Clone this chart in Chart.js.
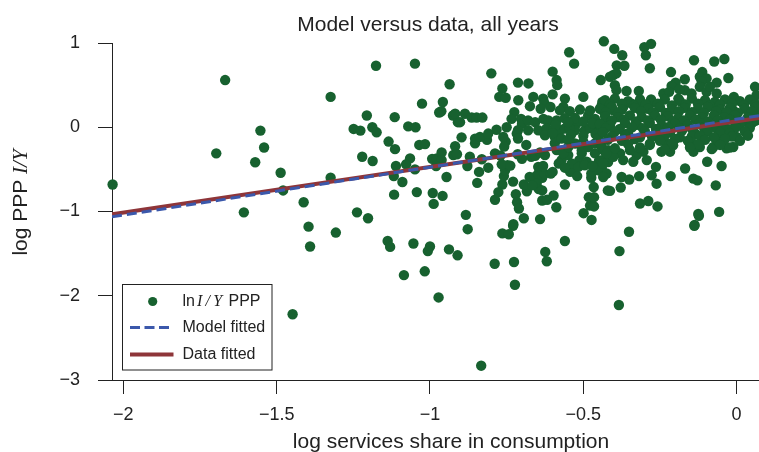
<!DOCTYPE html>
<html>
<head>
<meta charset="utf-8">
<title>Model versus data, all years</title>
<script src="https://cdn.jsdelivr.net/npm/chart.js@4/dist/chart.umd.min.js"></script>
<style>
  html, body { margin: 0; padding: 0; background: #fff; }
  #wrap { width: 759px; height: 452px; }
</style>
</head>
<body>
<div id="wrap"><canvas id="chart" width="759" height="452"></canvas></div>
<script>
// --- Data ---
// [log services share in consumption, log PPP I/Y]
const obsPoints = [
  [-2.035,-0.68],[-1.668,0.56],[-1.553,-0.04],[-1.541,-0.24],[-1.697,-0.31],[-1.570,-0.415],
  [-1.487,-0.54],[-1.479,-0.75],[-1.607,-1.01],[-1.412,-0.89],[-1.396,-1.18],[-1.391,-1.415],
  [-1.448,-2.22],[-1.324,0.36],
  [-1.176,0.73],[-1.049,0.755],[-0.936,0.51],[-0.958,0.30],[-1.026,0.28],[-0.963,0.19],
  [-0.970,0.175],[-0.925,0.14],[-0.909,0.06],[-1.206,0.14],[-1.115,0.12],[-1.249,-0.02],
  [-1.227,-0.04],[-1.188,0.0],[-1.174,-0.06],[-1.071,0.01],[-1.047,0.0],[-1.135,-0.17],
  [-1.114,-0.26],[-1.035,-0.21],[-1.016,-0.20],[-1.221,-0.35],[-1.187,-0.40],[-1.111,-0.46],
  [-1.065,-0.37],[-1.078,-0.44],[-1.049,-0.50],[-0.993,-0.375],[-0.978,-0.37],[-0.962,-0.30],
  [-0.962,-0.39],[-0.980,-0.46],[-0.924,-0.33],[-0.918,-0.225],[-0.946,-0.59],[-1.118,-0.58],
  [-1.090,-0.65],[-1.324,-0.60],[-1.117,-0.80],[-1.043,-0.77],[-0.991,-0.78],[-0.959,-0.815],
  [-0.988,-0.91],[-1.238,-1.01],[-1.202,-1.08],[-1.307,-1.25],[-1.138,-1.35],[-1.130,-1.42],
  [-1.054,-1.38],[-1.0,-1.415],[-1.007,-1.47],[-0.938,-1.45],[-0.910,-1.52],[-1.085,-1.755],
  [-1.017,-1.71],[-0.972,-2.02],
  [-0.877,-1.21],[-0.764,-1.26],[-0.743,-1.27],[-0.729,-1.17],[-0.789,-1.62],[-0.726,-1.60],
  [-0.723,-1.87],[-0.833,-2.83],[-0.624,-1.48],[-0.619,-1.59],[-0.560,-1.35],[-0.382,-1.47],
  [-0.384,-2.11],[-0.351,-1.24],[-0.138,-1.17],
  [-0.883,-1.04],[-0.728,-1.15],[-0.694,-1.08],[-0.641,-1.09],[-0.588,-0.95],[-0.499,-1.02],
  [-0.473,-1.10],[-0.478,-0.93],[-0.465,-0.94],[-0.482,-0.83],[-0.465,-0.83],[-0.466,-0.71],
  [-0.474,-0.60],[-0.474,-0.55],[-0.420,-0.75],[-0.788,-0.86],[-0.72,-0.795],[-0.716,-0.89],
  [-0.71,-0.965],[-0.684,-0.76],[-0.694,-0.68],[-0.729,-0.645],[-0.764,-0.68],[-0.759,-0.58],
  [-0.755,-0.51],[-0.747,-0.45],[-0.777,-0.77],[-0.846,-0.66],[-0.84,-0.53],[-0.878,-0.46],
  [-0.912,-0.32],[-0.87,-0.35],[-0.831,-0.38],[-0.810,-0.48],[-0.77,-0.335],[-0.766,-0.44],
  [-0.738,-0.455],[-0.853,-0.19],[-0.814,-0.15],[-0.753,-0.17],[-0.758,-0.23],[-0.686,-0.21],
  [-0.70,-0.375],[-0.67,-0.35],[-0.657,-0.34],[-0.675,-0.59],[-0.658,-0.59],[-0.647,-0.55],
  [-0.634,-0.60],[-0.627,-0.55],[-0.606,-0.55],[-0.60,-0.53],[-0.647,-0.47],[-0.631,-0.46],
  [-0.652,-0.67],[-0.645,-0.735],[-0.634,-0.75],[-0.634,-0.87],[-0.618,-0.86],[-0.597,-0.81],
  [-0.666,-0.69],[-0.56,-0.68],[-0.543,-0.53],[-0.531,-0.525],[-0.571,-0.39],[-0.549,-0.33],
  [-0.513,-0.39],[-0.505,-0.31],[-0.489,-0.41],[-0.462,-0.31],[-0.449,-0.40],[-0.44,-0.49],
  [-0.435,-0.27],[-0.587,-0.27],[-0.593,-0.19],[-0.565,-0.31],[-0.641,-0.30],[-0.625,-0.33],
  [-0.714,-0.32],[-0.788,-0.31],
  [-0.549,-0.234],[-0.527,-0.193],[-0.505,-0.273],[-0.484,-0.234],[-0.462,-0.193],[-0.44,-0.234],
  [-0.419,-0.273],[-0.538,-0.431],[-0.516,-0.471],[-0.495,-0.451],[-0.451,-0.51],[-0.424,-0.549],
  [-0.44,-0.391],[-0.419,-0.412],
  [-0.80,0.64],[-0.713,0.53],[-0.679,0.52],[-0.764,0.46],[-0.774,0.36],[-0.753,0.35],
  [-0.712,0.32],[-0.663,0.36],[-0.631,0.34],[-0.627,0.29],[-0.674,0.25],[-0.639,0.22],
  [-0.607,0.24],[-0.56,0.34],[-0.565,0.24],[-0.60,0.66],[-0.587,0.56],[-0.585,0.50],
  [-0.60,0.39],[-0.546,0.89],[-0.53,0.755],[-0.50,0.36],[-0.443,0.56],[-0.433,1.02],
  [-0.438,0.30],[-0.437,0.20],[-0.725,0.18],[-0.734,0.10],[-0.703,0.10],[-0.70,0.04],
  [-0.68,0.08],[-0.657,0.06],[-0.63,0.10],[-0.614,0.08],[-0.587,0.08],[-0.75,0.0],
  [-0.713,-0.035],[-0.68,-0.035],[-0.647,-0.035],[-0.62,-0.015],[-0.598,-0.025],[-0.576,-0.035],
  [-0.56,-0.015],[-0.522,0.045],[-0.484,0.14],[-0.527,-0.035],[-0.495,-0.035],[-0.462,0.0],
  [-0.44,0.045],[-0.419,0.08],[-0.625,-0.095],[-0.593,-0.115],[-0.571,-0.135],[-0.717,-0.075],
  [-0.713,-0.135],[-0.783,-0.03],[-0.761,-0.115],[-0.918,0.16],[-0.886,0.16],[-0.902,0.06],
  [-0.864,0.115],[-0.848,0.115],[-0.829,0.115],[-0.897,-0.12],[-0.853,-0.135],[-0.837,-0.115],
  [-0.81,-0.075],
  [-0.576,0.20],[-0.544,0.19],[-0.511,0.21],[-0.478,0.20],[-0.56,0.107],[-0.527,0.11],
  [-0.462,0.10],[-0.544,-0.012],[-0.478,-0.01],
  [-0.59,0.03],[-0.55,0.06],[-0.50,0.07],[-0.47,0.05],[-0.60,-0.07],[-0.54,-0.09],
  [-0.50,-0.10],[-0.46,-0.08],[-0.55,-0.15],[-0.50,-0.17],[-0.45,-0.13],[-0.58,-0.43],
  [-0.56,-0.48],[-0.52,-0.58],[-0.47,-0.46],
  [-0.399,0.93],[-0.373,0.855],[-0.301,0.95],[-0.279,0.99],[-0.296,0.855],[-0.283,0.70],
  [-0.391,0.735],[-0.366,0.73],[-0.402,0.62],[-0.392,0.64],[-0.413,0.60],[-0.397,0.50],
  [-0.392,0.44],[-0.359,0.43],[-0.319,0.43],[-0.214,0.655],[-0.139,0.795],[-0.073,0.78],
  [-0.04,0.81],[-0.199,0.53],[-0.212,0.49],[-0.169,0.57],[-0.112,0.655],[-0.12,0.60],
  [-0.098,0.58],[-0.114,0.54],[-0.065,0.53],[-0.027,0.585],[-0.239,0.40],[-0.22,0.42],
  [-0.19,0.34],[-0.169,0.44],[-0.147,0.40],[-0.187,0.45],[-0.12,0.48],[-0.098,0.42],
  [-0.087,0.48],[-0.065,0.40],[-0.009,0.36],[0.06,0.48],[0.065,0.38],[-0.279,0.33],
  [-0.315,0.30],[-0.342,0.28],[-0.37,0.24],[-0.402,0.20],[-0.43,0.30],[-0.44,0.26],
  [0.06,0.28],[0.065,0.16],[0.054,0.10],[-0.011,0.20],[0.0,0.10],
  [0.06,0.08],[-0.006,0.0],[0.0,-0.115],[-0.011,-0.235],[-0.033,-0.25],[-0.076,-0.235],
  [-0.06,-0.155],[-0.141,-0.29],[-0.12,-0.235],[-0.152,-0.195],[-0.245,-0.29],[-0.217,-0.29],
  [-0.207,-0.215],[-0.228,-0.195],[-0.283,-0.195],[-0.304,-0.29],[-0.326,-0.33],[-0.315,-0.25],
  [-0.348,-0.27],[-0.38,-0.31],[-0.402,-0.35],[-0.424,-0.31],[-0.435,-0.43],[-0.37,-0.39],
  [-0.337,-0.41],[-0.293,-0.39],[-0.263,-0.47],[-0.435,-0.59],[-0.375,-0.59],[-0.35,-0.62],
  [-0.318,-0.58],[-0.277,-0.57],[-0.261,-0.67],[-0.215,-0.58],[-0.168,-0.49],[-0.141,-0.61],
  [-0.128,-0.63],[-0.096,-0.41],[-0.049,-0.46],[-0.068,-0.69],[-0.413,-0.755],[-0.378,-0.715],
  [-0.315,-0.905],[-0.288,-0.875],[-0.258,-0.94],[-0.125,-1.03],[-0.057,-1.005],[-0.123,-1.05],
  [-0.137,-1.16],
  // dense band on the right
  [-0.429,0.32],[-0.397,0.34],[-0.354,0.31],[-0.315,0.33],[-0.276,0.30],[-0.234,0.33],
  [-0.185,0.31],[-0.146,0.34],[-0.103,0.32],[-0.071,0.30],[-0.038,0.33],[0.011,0.31],[0.043,0.33],
  [-0.413,0.27],[-0.374,0.28],[-0.335,0.26],[-0.296,0.27],[-0.257,0.28],[-0.211,0.26],
  [-0.166,0.27],[-0.126,0.28],[-0.087,0.26],[-0.054,0.27],[-0.015,0.28],[0.024,0.26],[0.060,0.27],
  [-0.446,0.22],[-0.407,0.24],[-0.374,0.21],[-0.332,0.23],[-0.289,0.22],[-0.250,0.24],
  [-0.211,0.21],[-0.169,0.23],[-0.126,0.22],[-0.094,0.24],[-0.054,0.21],[-0.022,0.23],
  [0.027,0.22],[0.063,0.24],
  [-0.426,0.18],[-0.387,0.17],[-0.312,0.19],[-0.273,0.18],[-0.231,0.17],[-0.188,0.19],
  [-0.146,0.18],[-0.107,0.17],[-0.067,0.19],[-0.032,0.18],[0.004,0.17],[0.050,0.19],
  [-0.429,0.13],[-0.387,0.12],[-0.348,0.14],[-0.309,0.12],[-0.266,0.14],[-0.224,0.13],
  [-0.191,0.11],[-0.152,0.14],[-0.113,0.12],[-0.074,0.14],[-0.041,0.12],[-0.006,0.14],[0.037,0.12],
  [-0.407,0.08],[-0.367,0.09],[-0.328,0.07],[-0.289,0.08],[-0.247,0.09],[-0.208,0.07],
  [-0.172,0.08],[-0.133,0.09],[-0.094,0.07],[-0.061,0.08],[-0.022,0.09],[0.024,0.07],[0.063,0.08],
  [-0.446,0.04],[-0.413,0.02],[-0.364,0.05],[-0.325,0.03],[-0.283,0.05],[-0.244,0.02],
  [-0.201,0.04],[-0.159,0.03],[-0.120,0.05],[-0.081,0.02],[-0.048,0.04],[0.011,0.03],[0.050,0.05],
  [-0.426,-0.01],[-0.381,-0.02],[-0.341,0.0],[-0.306,-0.01],[-0.263,-0.02],[-0.224,0.0],
  [-0.185,-0.01],[-0.146,-0.02],[-0.107,0.0],[-0.067,-0.01],[-0.032,-0.02],[-0.002,0.0],[0.043,-0.01],
  [-0.436,-0.06],[-0.397,-0.05],[-0.354,-0.07],[-0.299,-0.05],[-0.257,-0.07],[-0.217,-0.06],
  [-0.178,-0.04],[-0.136,-0.07],[-0.094,-0.05],[-0.054,-0.06],[-0.022,-0.07],[0.027,-0.05],
  [-0.407,-0.11],[-0.364,-0.10],[-0.315,-0.12],[-0.276,-0.11],[-0.234,-0.10],[-0.185,-0.12],
  [-0.146,-0.11],[-0.120,-0.10],[-0.074,-0.12],[-0.015,-0.11],[0.037,-0.10],
  [-0.420,-0.15],[-0.374,-0.16],[-0.332,-0.14],[-0.250,-0.16],[-0.201,-0.14],[-0.159,-0.16],
  [-0.103,-0.15],[-0.038,-0.14],[0.011,-0.16],
  [-0.354,-0.20],[-0.283,-0.21],[-0.211,-0.19],[-0.126,-0.20],[-0.054,-0.21],
  [-0.397,-0.25],[-0.315,-0.24],[-0.234,-0.26],[-0.152,-0.24],[-0.081,-0.26],[-0.022,-0.24]
];

// fitted lines, evaluated at the two ends of the x range
const fitX = [-2.037, 0.073];
const modelFitted = [-1.064, 0.137];
const dataFitted = [-1.032, 0.111];

const xTicks = [-2, -1.5, -1, -0.5, 0];
const yTicks = [-3, -2, -1, 0, 1];

const GREEN = '#17612f';
const BLUE = '#3b58ab';
const RED = '#8e3539';
const INK = '#222';
const SANS = '"Liberation Sans", Arial, Helvetica, sans-serif';
const SERIF = '"Liberation Serif", "Times New Roman", serif';

function fmt(v) {
    return String(v).replace('-', '\u2212');
}

// --- Titles + legend drawn on top of the chart ---
const decorations = {
    id: 'decorations',
    afterDraw(chart) {
        const ctx = chart.ctx;
        ctx.save();
        ctx.fillStyle = INK;
        ctx.textBaseline = 'alphabetic';

        // main title
        ctx.font = '21px ' + SANS;
        ctx.textAlign = 'center';
        ctx.fillText('Model versus data, all years', 428, 30.5);

        // x axis title
        ctx.fillText('log services share in consumption', 451, 448);

        // y axis title, mixed fonts
        ctx.save();
        ctx.translate(27, 202.5);
        ctx.rotate(-Math.PI / 2);
        ctx.textAlign = 'left';
        const part1 = 'log PPP ';
        const part2 = 'I/Y';
        ctx.font = '21px ' + SANS;
        const w1 = ctx.measureText(part1).width;
        ctx.font = 'italic 21px ' + SERIF;
        const w2 = ctx.measureText(part2).width;
        let start = -(w1 + w2) / 2;
        ctx.font = '21px ' + SANS;
        ctx.fillText(part1, start, 0);
        ctx.font = 'italic 21px ' + SERIF;
        ctx.fillText(part2, start + w1, 0);
        ctx.restore();

        // legend box
        ctx.fillStyle = '#fff';
        ctx.fillRect(122.5, 284.5, 149.5, 85.5);
        ctx.strokeStyle = INK;
        ctx.lineWidth = 1;
        ctx.strokeRect(122.5, 284.5, 149.5, 85.5);

        ctx.fillStyle = GREEN;
        ctx.beginPath();
        ctx.arc(152.7, 301.5, 4.6, 0, Math.PI * 2);
        ctx.fill();

        ctx.strokeStyle = BLUE;
        ctx.lineWidth = 3;
        ctx.setLineDash([10, 4.5]);
        ctx.beginPath();
        ctx.moveTo(130, 327.5);
        ctx.lineTo(173.5, 327.5);
        ctx.stroke();
        ctx.setLineDash([]);

        ctx.strokeStyle = RED;
        ctx.lineWidth = 4;
        ctx.beginPath();
        ctx.moveTo(130, 354.5);
        ctx.lineTo(173.5, 354.5);
        ctx.stroke();

        ctx.fillStyle = INK;
        ctx.textAlign = 'left';
        ctx.textBaseline = 'middle';
        let x = 182.5;
        ctx.font = '16px ' + SANS;
        ctx.fillText('ln', x, 302);
        x += ctx.measureText('ln').width + 2;
        ctx.font = 'italic 16px ' + SERIF;
        ctx.fillText('I\u2009/\u2009Y', x, 302);
        x += ctx.measureText('I\u2009/\u2009Y').width + 2;
        ctx.font = '16px ' + SANS;
        ctx.fillText(' PPP', x, 302);
        ctx.fillText('Model fitted', 182.5, 327.5);
        ctx.fillText('Data fitted', 182.5, 354.5);
        ctx.restore();
    }
};

// --- Chart ---
const ctx = document.getElementById('chart').getContext('2d');
new Chart(ctx, {
    type: 'scatter',
    data: {
        datasets: [
            {
                label: 'Model fitted',
                data: fitX.map((x, i) => ({ x: x, y: modelFitted[i] })),
                showLine: true,
                borderColor: BLUE,
                borderWidth: 3,
                borderDash: [10, 5],
                pointRadius: 0,
                order: 0
            },
            {
                label: 'Data fitted',
                data: fitX.map((x, i) => ({ x: x, y: dataFitted[i] })),
                showLine: true,
                borderColor: RED,
                borderWidth: 4,
                pointRadius: 0,
                order: 1
            },
            {
                label: 'ln I/Y PPP',
                data: obsPoints.map(p => ({ x: p[0], y: p[1] })),
                backgroundColor: GREEN,
                borderWidth: 0,
                pointRadius: 5.2,
                pointHoverRadius: 5.2,
                clip: false,
                order: 2
            }
        ]
    },
    options: {
        responsive: false,
        animation: false,
        events: [],
        layout: { autoPadding: false, padding: { top: 43, left: 0, right: 0, bottom: 0 } },
        plugins: {
            legend: { display: false },
            title: { display: false },
            tooltip: { enabled: false }
        },
        scales: {
            x: {
                type: 'linear',
                min: fitX[0],
                max: fitX[1],
                afterBuildTicks: s => { s.ticks = xTicks.map(v => ({ value: v })); },
                afterFit: s => { s.height = 72; s.paddingLeft = 0; s.paddingRight = 0; },
                grid: { drawOnChartArea: false, drawTicks: true, tickLength: 14, color: INK, lineWidth: 1 },
                border: { display: true, color: INK, width: 1 },
                ticks: {
                    padding: 10,
                    color: INK,
                    font: { family: SANS, size: 18 },
                    maxRotation: 0,
                    callback: v => fmt(v)
                }
            },
            y: {
                type: 'linear',
                min: yTicks[0],
                max: yTicks[yTicks.length - 1],
                afterBuildTicks: s => { s.ticks = yTicks.map(v => ({ value: v })); },
                afterFit: s => { s.width = 112; s.paddingTop = 0; s.paddingBottom = 0; },
                grid: { drawOnChartArea: false, drawTicks: true, tickLength: 14, color: INK, lineWidth: 1 },
                border: { display: true, color: INK, width: 1 },
                ticks: {
                    padding: 18,
                    color: INK,
                    font: { family: SANS, size: 18 },
                    callback: v => fmt(v)
                }
            }
        }
    },
    plugins: [decorations]
});
</script>
</body>
</html>
